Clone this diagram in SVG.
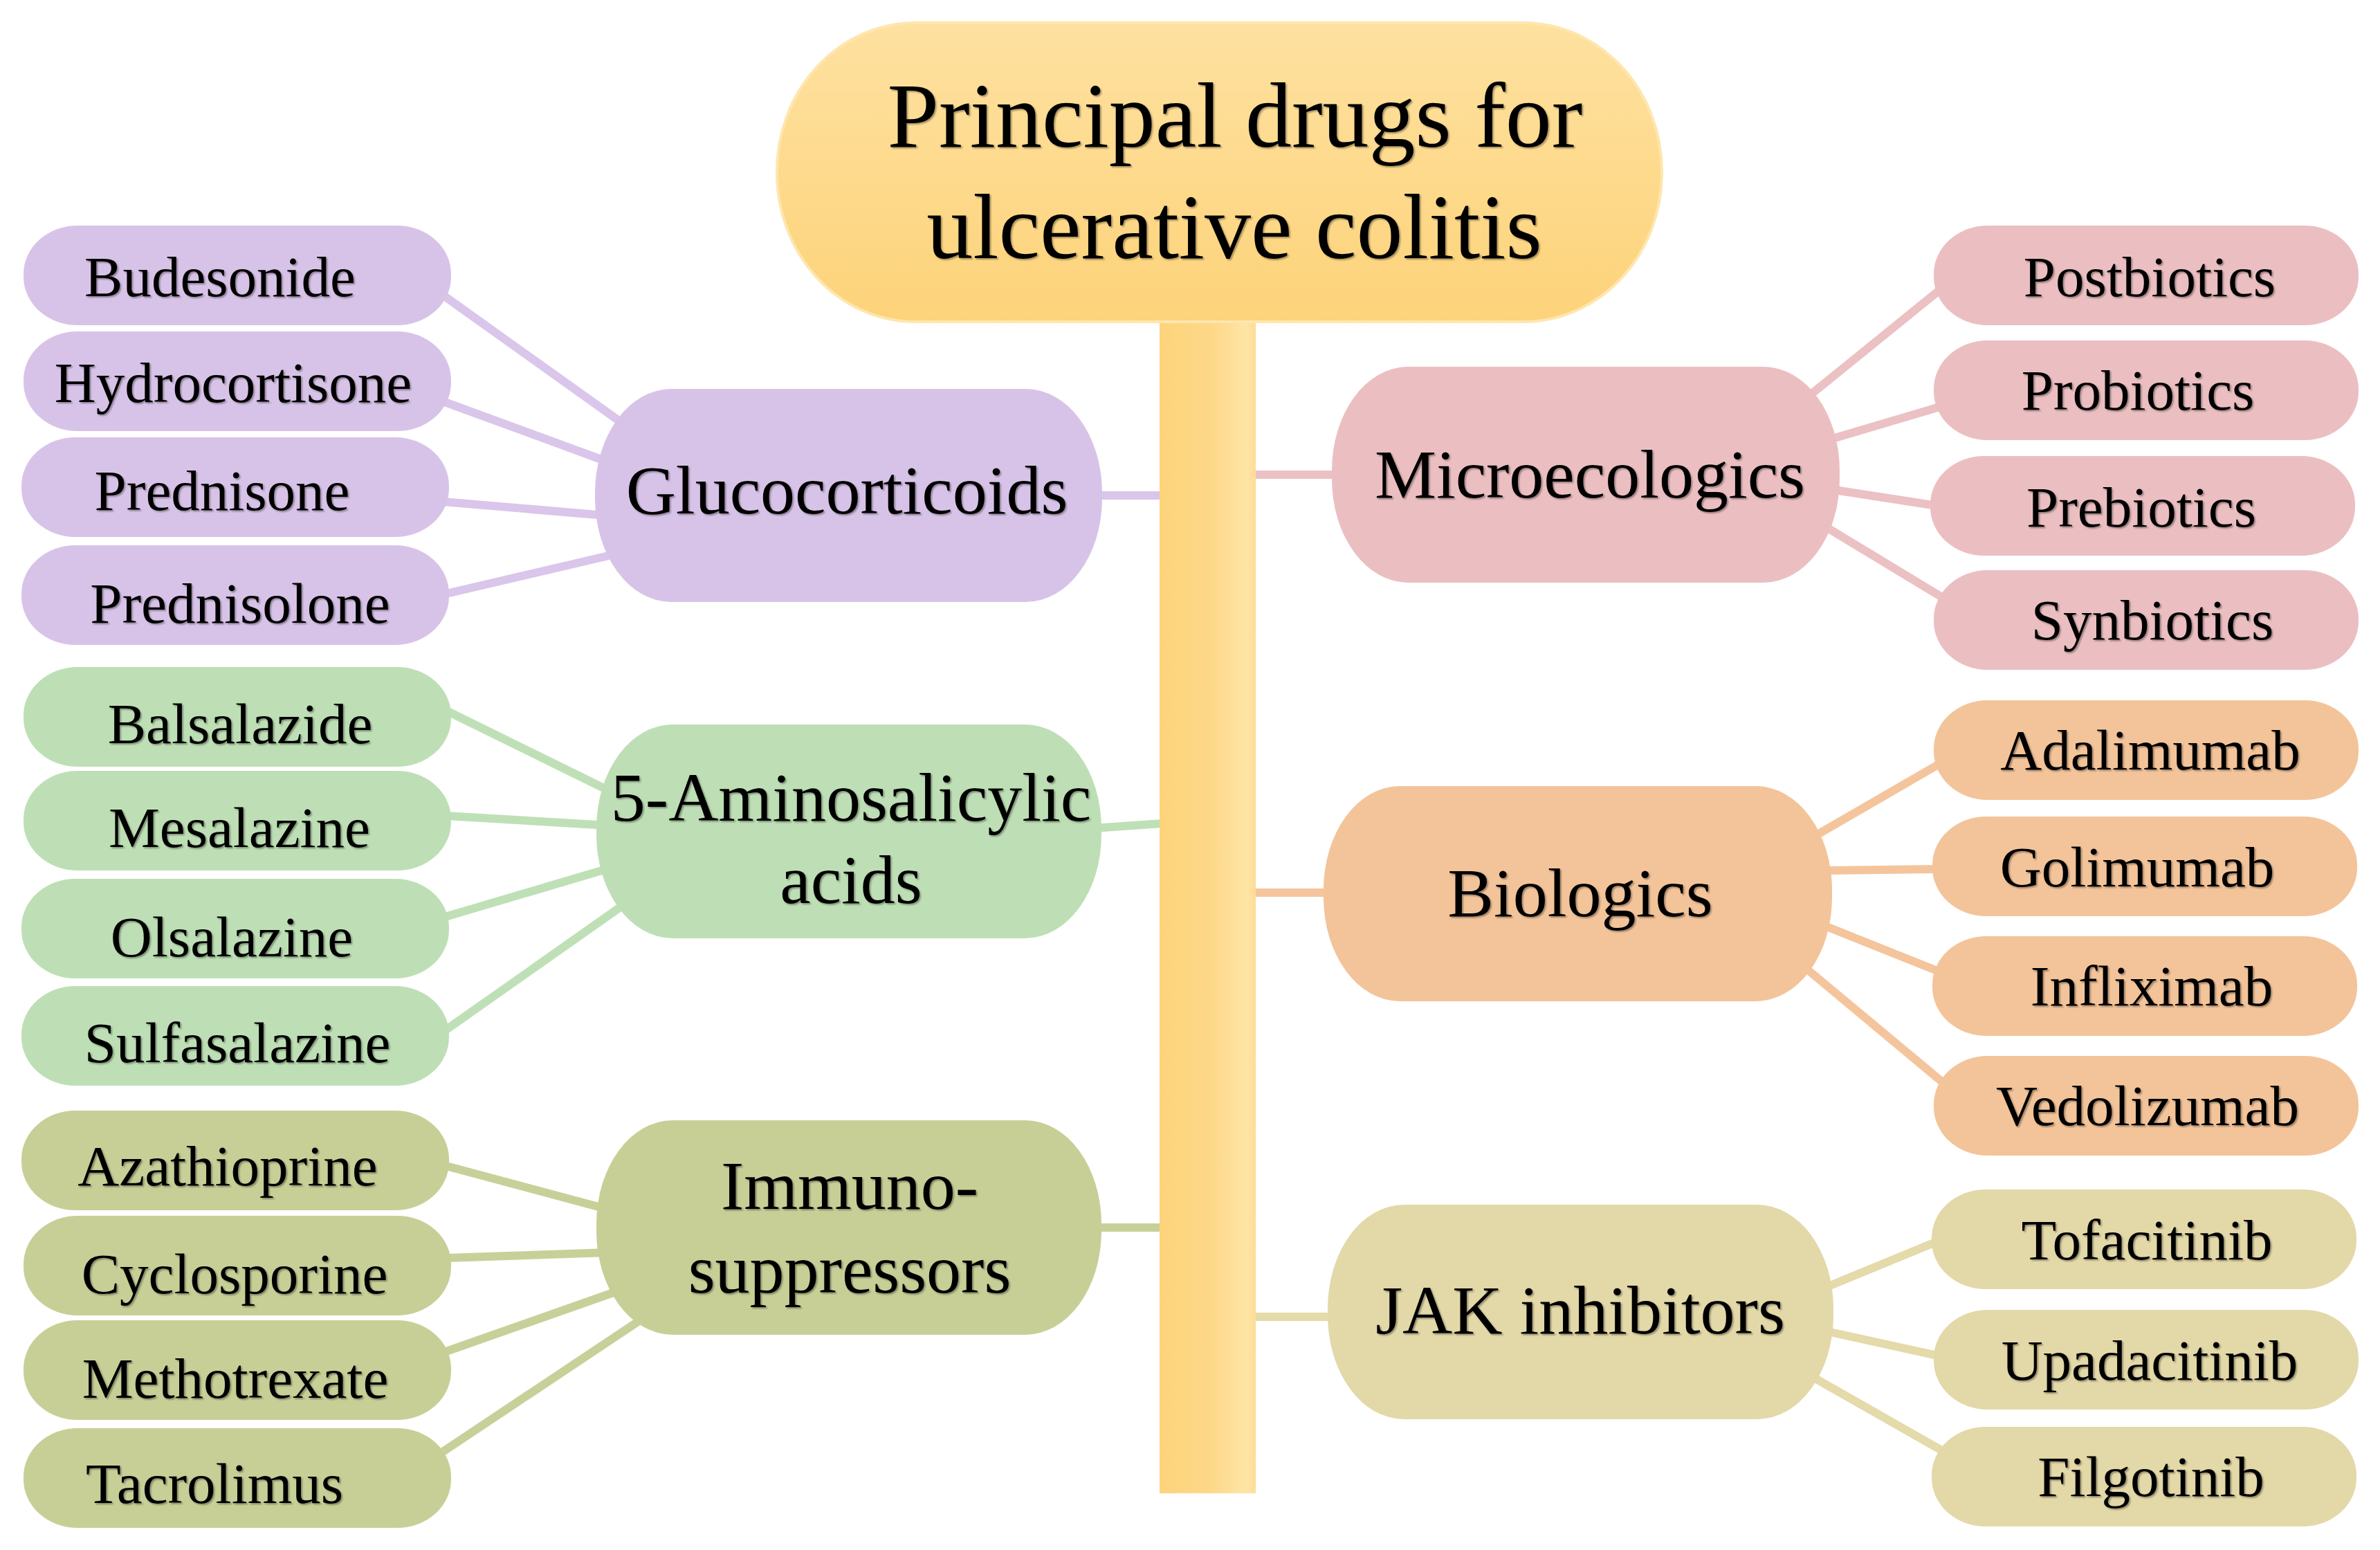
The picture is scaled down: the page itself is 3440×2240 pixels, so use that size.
<svg xmlns="http://www.w3.org/2000/svg" width="3440" height="2240" viewBox="0 0 3440 2240">
<defs>
<linearGradient id="gTitle" x1="0" y1="0" x2="0" y2="1">
<stop offset="0" stop-color="#FEE1A0"/>
<stop offset="1" stop-color="#FDD37A"/>
</linearGradient>
<linearGradient id="gStem" x1="0" y1="0" x2="1" y2="0">
<stop offset="0" stop-color="#FDD47B"/>
<stop offset="0.55" stop-color="#FDD889"/>
<stop offset="0.9" stop-color="#FEE5A6"/>
<stop offset="1" stop-color="#FDDC96"/>
</linearGradient>
<filter id="ts" x="-5%" y="-20%" width="110%" height="140%">
<feDropShadow dx="2" dy="2" stdDeviation="1.2" flood-color="#000" flood-opacity="0.35"/>
</filter>
</defs>
<style>
text{font-family:"Liberation Serif","Times New Roman",serif;fill:#000;text-anchor:middle;filter:url(#ts)}
.t{font-size:134px}
.c{font-size:100px}
.l{font-size:83px}
.ln{stroke-width:12;fill:none;stroke-linecap:butt}
.pu{fill:#D8C3E8}.gr{fill:#BEDFB5}.ol{fill:#C7CF97}.pk{fill:#EBBFC1}.or{fill:#F3C49A}.kh{fill:#E3D8A8}
.lpu{stroke:#D9C6EA}.lgr{stroke:#BFE0B7}.lol{stroke:#C8D099}.lpk{stroke:#EBC1C3}.lor{stroke:#F4C59C}.lkh{stroke:#E4DAAA}
</style>
<rect width="3440" height="2240" fill="#fff"/>
<g id="connectors">
<line class="ln lpu" x1="1580" y1="716" x2="1680" y2="716"/>
<line class="ln lgr" x1="1580" y1="1197" x2="1680" y2="1190"/>
<line class="ln lol" x1="1580" y1="1774" x2="1680" y2="1774"/>
<line class="ln lpk" x1="1810" y1="686" x2="1940" y2="686"/>
<line class="ln lor" x1="1810" y1="1290" x2="1930" y2="1290"/>
<line class="ln lkh" x1="1810" y1="1903" x2="1930" y2="1903"/>
<line class="ln lpu" x1="641" y1="427" x2="910" y2="619"/>
<line class="ln lpu" x1="640" y1="580" x2="880" y2="668"/>
<line class="ln lpu" x1="640" y1="725" x2="875" y2="745"/>
<line class="ln lpu" x1="645" y1="858" x2="880" y2="803"/>
<line class="ln lgr" x1="645" y1="1027" x2="885" y2="1145"/>
<line class="ln lgr" x1="645" y1="1179" x2="880" y2="1193"/>
<line class="ln lgr" x1="640" y1="1326" x2="880" y2="1255"/>
<line class="ln lgr" x1="645" y1="1488" x2="905" y2="1305"/>
<line class="ln lol" x1="645" y1="1685" x2="880" y2="1748"/>
<line class="ln lol" x1="645" y1="1818" x2="880" y2="1810"/>
<line class="ln lol" x1="645" y1="1953" x2="895" y2="1865"/>
<line class="ln lol" x1="640" y1="2098" x2="940" y2="1898"/>
<line class="ln lpk" x1="2810" y1="414" x2="2605" y2="580"/>
<line class="ln lpk" x1="2645" y1="635" x2="2810" y2="586"/>
<line class="ln lpk" x1="2645" y1="707" x2="2800" y2="731"/>
<line class="ln lpk" x1="2630" y1="756" x2="2815" y2="868"/>
<line class="ln lor" x1="2620" y1="1210" x2="2810" y2="1100"/>
<line class="ln lor" x1="2640" y1="1258" x2="2805" y2="1256"/>
<line class="ln lor" x1="2635" y1="1337" x2="2810" y2="1407"/>
<line class="ln lor" x1="2605" y1="1395" x2="2815" y2="1570"/>
<line class="ln lkh" x1="2640" y1="1860" x2="2805" y2="1792"/>
<line class="ln lkh" x1="2645" y1="1925" x2="2805" y2="1960"/>
<line class="ln lkh" x1="2620" y1="1990" x2="2810" y2="2098"/>
</g>
<g id="stem">
<rect x="1676" y="440" width="139" height="1718" fill="url(#gStem)"/>
</g>
<g id="title">
<rect x="1123" y="33" width="1279" height="432" rx="200" ry="215" fill="url(#gTitle)" stroke="#FEE6AE" stroke-width="4"/>
<text class="t" x="1785" y="212">Principal drugs for</text>
<text class="t" x="1784" y="373">ulcerative colitis</text>
</g>
<g id="cat-glucocorticoids">
<rect class="pu" x="860" y="562" width="733" height="308" rx="110" ry="150"/>
<text class="c" x="1224" y="742">Glucocorticoids</text>
</g>
<g id="cat-5asa">
<rect class="gr" x="862" y="1047" width="730" height="309" rx="110" ry="150"/>
<text class="c" x="1230" y="1186">5-Aminosalicylic</text>
<text class="c" x="1230" y="1305">acids</text>
</g>
<g id="cat-immuno">
<rect class="ol" x="862" y="1619" width="730" height="310" rx="110" ry="150"/>
<text class="c" x="1228" y="1747">Immuno-</text>
<text class="c" x="1228" y="1868">suppressors</text>
</g>
<g id="cat-microecologics">
<rect class="pk" x="1925" y="530" width="734" height="312" rx="110" ry="150"/>
<text class="c" x="2298" y="719">Microecologics</text>
</g>
<g id="cat-biologics">
<rect class="or" x="1913" y="1136" width="735" height="311" rx="110" ry="150"/>
<text class="c" x="2284" y="1324">Biologics</text>
</g>
<g id="cat-jak">
<rect class="kh" x="1919" y="1741" width="731" height="310" rx="110" ry="150"/>
<text class="c" x="2284" y="1927">JAK inhibitors</text>
</g>
<g id="leaf-budesonide"><rect class="pu" x="34" y="326" width="618" height="144" rx="78" ry="70"/><text class="l" x="318" y="428">Budesonide</text></g>
<g id="leaf-hydrocortisone"><rect class="pu" x="34" y="479" width="618" height="144" rx="78" ry="70"/><text class="l" x="337" y="581">Hydrocortisone</text></g>
<g id="leaf-prednisone"><rect class="pu" x="31" y="632" width="618" height="144" rx="78" ry="70"/><text class="l" x="321" y="737">Prednisone</text></g>
<g id="leaf-prednisolone"><rect class="pu" x="31" y="788" width="618" height="144" rx="78" ry="70"/><text class="l" x="347" y="900">Prednisolone</text></g>
<g id="leaf-balsalazide"><rect class="gr" x="34" y="964" width="618" height="144" rx="78" ry="70"/><text class="l" x="347" y="1074">Balsalazide</text></g>
<g id="leaf-mesalazine"><rect class="gr" x="34" y="1114" width="618" height="144" rx="78" ry="70"/><text class="l" x="346" y="1224">Mesalazine</text></g>
<g id="leaf-olsalazine"><rect class="gr" x="31" y="1270" width="618" height="144" rx="78" ry="70"/><text class="l" x="335" y="1382">Olsalazine</text></g>
<g id="leaf-sulfasalazine"><rect class="gr" x="31" y="1425" width="618" height="144" rx="78" ry="70"/><text class="l" x="343" y="1535">Sulfasalazine</text></g>
<g id="leaf-azathioprine"><rect class="ol" x="31" y="1605" width="618" height="144" rx="78" ry="70"/><text class="l" x="329" y="1713">Azathioprine</text></g>
<g id="leaf-cyclosporine"><rect class="ol" x="34" y="1757" width="618" height="144" rx="78" ry="70"/><text class="l" x="339" y="1869">Cyclosporine</text></g>
<g id="leaf-methotrexate"><rect class="ol" x="34" y="1908" width="618" height="144" rx="78" ry="70"/><text class="l" x="340" y="2020">Methotrexate</text></g>
<g id="leaf-tacrolimus"><rect class="ol" x="34" y="2064" width="618" height="144" rx="78" ry="70"/><text class="l" x="310" y="2172">Tacrolimus</text></g>
<g id="leaf-postbiotics"><rect class="pk" x="2795" y="326" width="614" height="144" rx="78" ry="70"/><text class="l" x="3107" y="428">Postbiotics</text></g>
<g id="leaf-probiotics"><rect class="pk" x="2795" y="492" width="614" height="144" rx="78" ry="70"/><text class="l" x="3090" y="592">Probiotics</text></g>
<g id="leaf-prebiotics"><rect class="pk" x="2790" y="659" width="614" height="144" rx="78" ry="70"/><text class="l" x="3095" y="761">Prebiotics</text></g>
<g id="leaf-synbiotics"><rect class="pk" x="2795" y="824" width="614" height="144" rx="78" ry="70"/><text class="l" x="3111" y="924">Synbiotics</text></g>
<g id="leaf-adalimumab"><rect class="or" x="2795" y="1012" width="614" height="144" rx="78" ry="70"/><text class="l" x="3108" y="1112">Adalimumab</text></g>
<g id="leaf-golimumab"><rect class="or" x="2793" y="1180" width="614" height="144" rx="78" ry="70"/><text class="l" x="3089" y="1281">Golimumab</text></g>
<g id="leaf-infliximab"><rect class="or" x="2793" y="1353" width="614" height="144" rx="78" ry="70"/><text class="l" x="3110" y="1453">Infliximab</text></g>
<g id="leaf-vedolizumab"><rect class="or" x="2795" y="1526" width="614" height="144" rx="78" ry="70"/><text class="l" x="3104" y="1626">Vedolizumab</text></g>
<g id="leaf-tofacitinib"><rect class="kh" x="2792" y="1719" width="614" height="144" rx="78" ry="70"/><text class="l" x="3103" y="1820">Tofacitinib</text></g>
<g id="leaf-upadacitinib"><rect class="kh" x="2795" y="1893" width="614" height="144" rx="78" ry="70"/><text class="l" x="3107" y="1994">Upadacitinib</text></g>
<g id="leaf-filgotinib"><rect class="kh" x="2792" y="2062" width="614" height="144" rx="78" ry="70"/><text class="l" x="3109" y="2162">Filgotinib</text></g>
</svg>
